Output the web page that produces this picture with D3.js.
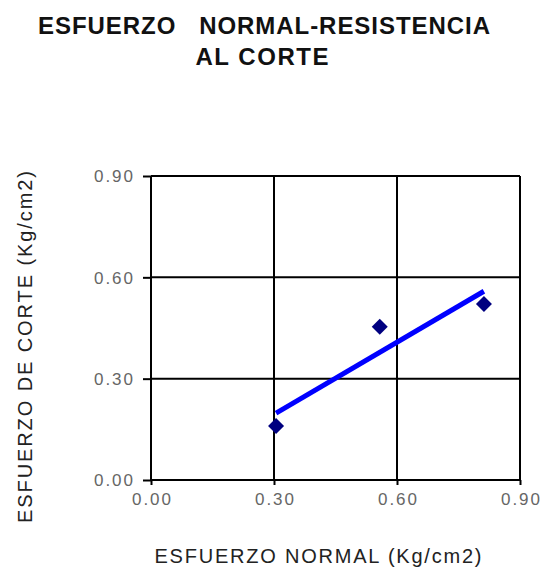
<!DOCTYPE html>
<html>
<head>
<meta charset="utf-8">
<script src="https://cdn.jsdelivr.net/npm/d3@7"></script>
<style>
  html, body { margin: 0; padding: 0; background: #fff; }
  svg { display: block; }
  text { white-space: pre; }
</style>
</head>
<body>
<svg id="chart" width="541" height="572"></svg>
<script>
// Ensayo de corte: esfuerzo normal vs. esfuerzo de corte
const esfuerzoNormal = [0.305, 0.558, 0.812];
const esfuerzoCorte  = [0.16, 0.454, 0.521];
const tickValues = [0.00, 0.30, 0.60, 0.90];
const titleLines = ["ESFUERZO   NORMAL-RESISTENCIA", "AL CORTE"];
const xTitle = "ESFUERZO NORMAL (Kg/cm2)";
const yTitle = "ESFUERZO DE CORTE (Kg/cm2)";

const FONT = "Liberation Sans, Arial, sans-serif";
const svg = d3.select("#chart");
const plot = { left: 151, right: 520, top: 176, bottom: 480 };

const x = d3.scaleLinear().domain([0, 0.9]).range([plot.left, plot.right]);
const y = d3.scaleLinear().domain([0, 0.9]).range([plot.bottom, plot.top]);

// Title (two centred lines)
const titleLayout = [
  { cx: 264, y: 34, w: 452 },
  { cx: 262, y: 65, w: 133 }
];
svg.append("g").selectAll("text").data(titleLines).join("text")
  .attr("x", (d, i) => titleLayout[i].cx).attr("y", (d, i) => titleLayout[i].y)
  .attr("text-anchor", "middle")
  .attr("textLength", (d, i) => titleLayout[i].w)
  .attr("lengthAdjust", "spacing")
  .attr("font-family", FONT)
  .attr("font-weight", "bold").attr("font-size", 24)
  .attr("fill", "#111")
  .text(d => d);

// Grid
const grid = svg.append("g");
grid.selectAll(".gx").data(tickValues).join("line")
  .attr("x1", d => x(d)).attr("x2", d => x(d))
  .attr("y1", plot.top).attr("y2", plot.bottom)
  .attr("stroke", "#000").attr("stroke-width", 2);
grid.selectAll(".gy").data(tickValues).join("line")
  .attr("x1", plot.left).attr("x2", plot.right)
  .attr("y1", d => y(d)).attr("y2", d => y(d))
  .attr("stroke", "#000").attr("stroke-width", 2);

// Axes
const fmt = d3.format(".2f");
const xAxis = svg.append("g").attr("transform", `translate(0,${plot.bottom})`)
  .call(d3.axisBottom(x).tickValues(tickValues).tickFormat(fmt).tickSize(5).tickPadding(8));
const yAxis = svg.append("g").attr("transform", `translate(${plot.left},0)`)
  .call(d3.axisLeft(y).tickValues(tickValues).tickFormat(fmt).tickSize(8).tickPadding(10));
[xAxis, yAxis].forEach(a => {
  a.select(".domain").remove();
  a.selectAll(".tick line").attr("stroke", "#000").attr("stroke-width", 2);
  a.selectAll(".tick text")
    .attr("font-family", FONT)
    .attr("font-size", 17)
    .attr("textLength", 39).attr("lengthAdjust", "spacing")
    .attr("fill", "#666");
});
yAxis.selectAll(".tick text").attr("dy", "0.35em");

// Trend line (least squares)
const mx = d3.mean(esfuerzoNormal), my = d3.mean(esfuerzoCorte);
const slope = d3.sum(esfuerzoNormal, (v, i) => (v - mx) * (esfuerzoCorte[i] - my)) /
              d3.sum(esfuerzoNormal, v => (v - mx) * (v - mx));
const intercept = my - slope * mx;
const xExt = d3.extent(esfuerzoNormal);
svg.append("line")
  .attr("x1", x(xExt[0])).attr("y1", y(intercept + slope * xExt[0]))
  .attr("x2", x(xExt[1])).attr("y2", y(intercept + slope * xExt[1]))
  .attr("stroke", "#0000ff").attr("stroke-width", 5);

// Data points
svg.append("g").selectAll("path").data(esfuerzoNormal).join("path")
  .attr("transform", (d, i) => `translate(${x(d)},${y(esfuerzoCorte[i])})`)
  .attr("d", "M0,-8L8,0L0,8L-8,0Z")
  .attr("fill", "#000080");

// Axis titles
svg.append("text")
  .attr("x", 318).attr("y", 563)
  .attr("text-anchor", "middle")
  .attr("textLength", 327).attr("lengthAdjust", "spacing")
  .attr("font-family", FONT)
  .attr("font-size", 20).attr("fill", "#222")
  .text(xTitle);
svg.append("text")
  .attr("transform", "translate(32,347) rotate(-90)")
  .attr("text-anchor", "middle")
  .attr("textLength", 352).attr("lengthAdjust", "spacing")
  .attr("font-family", FONT)
  .attr("font-size", 20).attr("fill", "#222")
  .text(yTitle);
</script>
</body>
</html>
